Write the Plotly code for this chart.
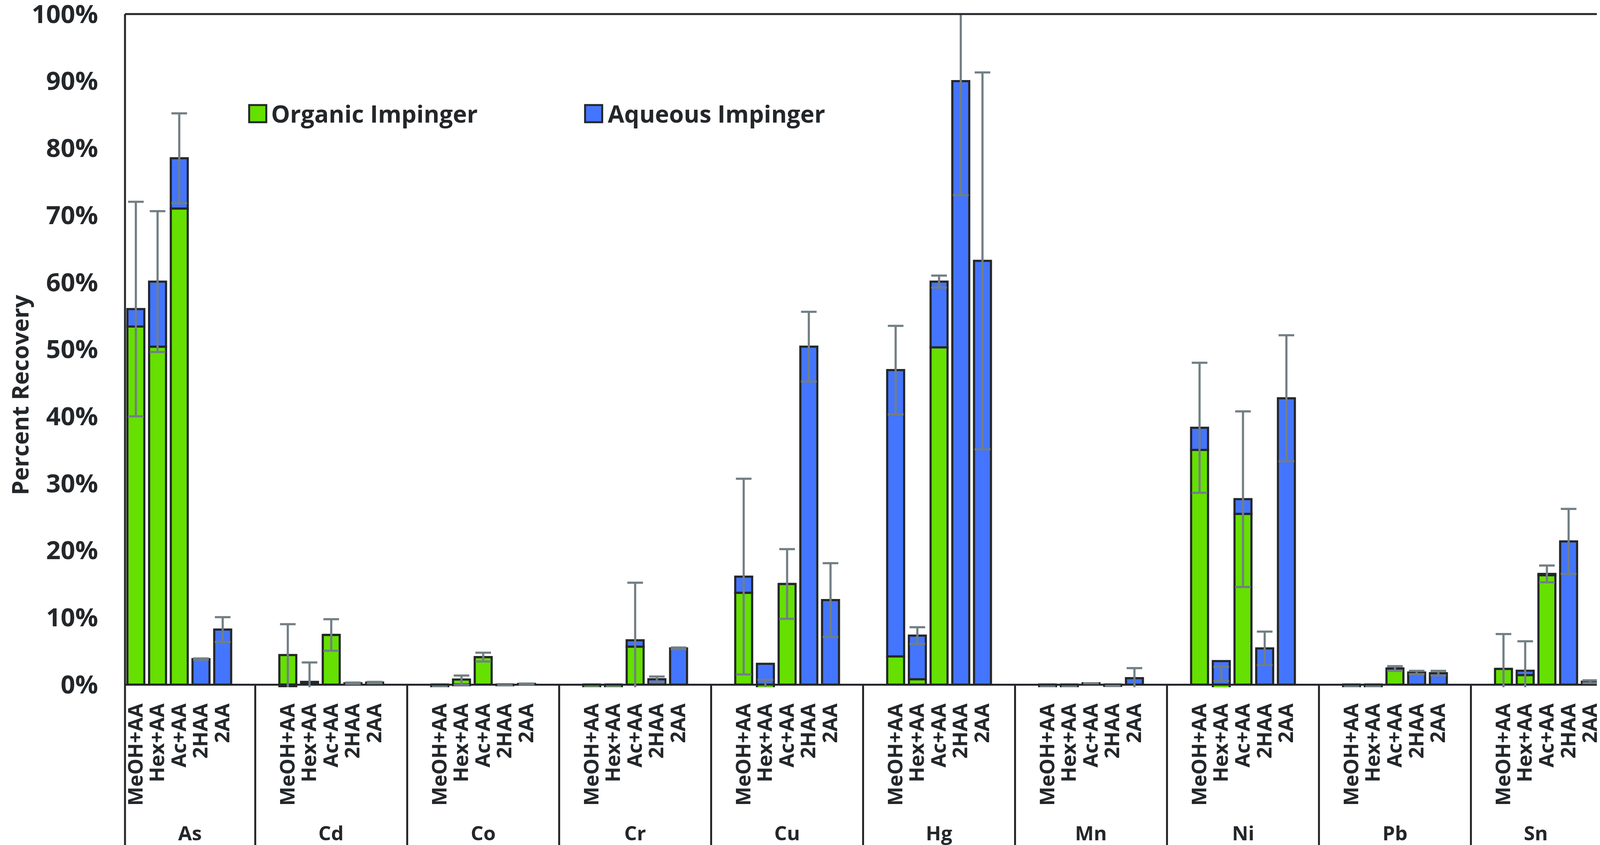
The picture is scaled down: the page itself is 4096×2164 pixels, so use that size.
import plotly.graph_objects as go

# ---------------- data (fractions of recovery) ----------------
groups = ["As", "Cd", "Co", "Cr", "Cu", "Hg", "Mn", "Ni", "Pb", "Sn"]
samples = ["MeOH+AA", "Hex+AA", "Ac+AA", "2HAA", "2AA"]
series_names = ["Organic Impinger", "Aqueous Impinger"]
y_ticks = [0.0, 0.1, 0.2, 0.3, 0.4, 0.5, 0.6, 0.7, 0.8, 0.9, 1.0]
y_tick_labels = ["0%", "10%", "20%", "30%", "40%", "50%", "60%", "70%", "80%", "90%", "100%"]

organic = [
    0.534, 0.504, 0.710, 0.000, 0.000,    # As
    0.044, 0.001, 0.074, 0.000, 0.000,    # Cd
    -0.003, 0.0075, 0.041, 0.000, 0.000,  # Co
    -0.004, -0.004, 0.0565, 0.000, 0.000, # Cr
    0.137, -0.030, 0.150, 0.000, 0.000,   # Cu
    0.042, 0.008, 0.503, 0.000, 0.000,    # Hg
    -0.003, -0.003, 0.000, 0.000, 0.000,  # Mn
    0.350, -0.019, 0.2545, 0.000, 0.000,  # Ni
    -0.003, -0.003, 0.024, 0.000, 0.000,  # Pb
    0.0234, 0.0142, 0.163, 0.000, 0.000,  # Sn
]
aqueous = [
    0.026, 0.097, 0.075, 0.038, 0.082,    # As
    -0.003, 0.003, 0.000, 0.002, 0.003,   # Cd
    0.000, -0.001, 0.000, -0.001, 0.001,  # Co
    0.000, 0.000, 0.0095, 0.008, 0.054,   # Cr
    0.024, 0.031, 0.000, 0.504, 0.126,    # Cu
    0.427, 0.065, 0.098, 0.900, 0.632,    # Hg
    0.000, 0.000, 0.002, -0.002, 0.0095,  # Mn
    0.033, 0.035, 0.022, 0.054, 0.427,    # Ni
    0.000, 0.000, 0.000, 0.018, 0.017,    # Pb
    0.000, 0.0064, 0.002, 0.2135, 0.0043, # Sn
]
error = [
    0.160, 0.105, 0.067, 0.001, 0.0185,   # As
    0.049, 0.029, 0.0235, 0.001, 0.001,   # Cd
    None, 0.007, 0.0065, None, 0.0005,    # Co
    None, None, 0.086, 0.004, 0.0012,     # Cr
    0.146, 0.006, 0.052, 0.052, 0.055,    # Cu
    0.066, 0.0125, 0.009, 0.170, 0.281,   # Hg
    None, None, None, None, 0.015,        # Mn
    0.097, 0.0105, 0.131, 0.025, 0.094,   # Ni
    None, None, 0.0035, 0.0025, 0.0035,   # Pb
    0.052, 0.044, 0.0125, 0.0485, 0.002,  # Sn
]

# ---------------- styling ----------------
S = 0.975
W, H = 4096, 2164
GREEN = "#65E000"
BLUE = "#4475FF"
EDGE = "#24272A"
ERRC = "#727F84"
FONT = "Open Sans"

# plot-area geometry in pixels (reference px * S)
L = 320 * S
R = 4196 * S
T = 29 * S
Y0PX = 1790 * S             # pixel row of 0 %
YMIN, YMAX = -0.004, 1.0
unit = (Y0PX - T) / (1.0 - 0.0)
B = Y0PX - YMIN * unit      # bottom of plot area
PW, PH = R - L, B - T


def px_x(px):
    return (px - L) / PW


def px_y(py):
    return (B - py) / PH


# ---------------- categories (with blank spacer slots) ----------------
all_cats, bar_cats, bar_labels, group_spans = [], [], [], []
for gi, g in enumerate(groups):
    start = len(all_cats)
    if gi > 0:
        all_cats.append(g + "|pre")
    for s in samples:
        c = g + "|" + s
        all_cats.append(c)
        bar_cats.append(c)
        bar_labels.append(s)
    if gi < len(groups) - 1:
        all_cats.append(g + "|post")
    group_spans.append((start, len(all_cats)))
N = len(all_cats)
XMIN, XMAX = -0.5, N - 0.5


def cat_paper(pos):
    return (pos - XMIN) / (XMAX - XMIN)


net = [o + a for o, a in zip(organic, aqueous)]

fig = go.Figure()
fig.add_trace(go.Bar(
    x=bar_cats, y=organic, name=series_names[0],
    marker=dict(color=GREEN, line=dict(color=EDGE, width=5.5)),
    showlegend=False, hoverinfo="skip"))
fig.add_trace(go.Bar(
    x=bar_cats, y=aqueous, name=series_names[1],
    marker=dict(color=BLUE, line=dict(color=EDGE, width=5.5)),
    showlegend=False, hoverinfo="skip"))
fig.add_trace(go.Scatter(
    x=bar_cats, y=net, mode="markers",
    marker=dict(color="rgba(0,0,0,0)", size=1),
    error_y=dict(type="data", array=error, symmetric=True,
                 color=ERRC, thickness=5.5, width=20),
    showlegend=False, hoverinfo="skip"))

shapes = []
line_style = dict(color=EDGE, width=5)
zero_p = px_y(Y0PX)
# frame: top, left, right
shapes.append(dict(type="line", xref="paper", yref="paper", x0=0, x1=1, y0=1, y1=1, line=line_style))
shapes.append(dict(type="line", xref="paper", yref="paper", x0=0, x1=0, y0=1, y1=-1, line=line_style))
shapes.append(dict(type="line", xref="paper", yref="paper", x0=1, x1=1, y0=1, y1=-1, line=line_style))
# group separators below the axis
annotations = []
for (a, b), g in zip(group_spans, groups):
    if b < N:
        xp = cat_paper(b - 0.5)
        shapes.append(dict(type="line", xref="paper", yref="paper", x0=xp, x1=xp,
                           y0=zero_p, y1=-1, line=line_style))
    annotations.append(dict(
        xref="paper", yref="paper", x=cat_paper((a + b - 1) / 2.0), y=px_y(2179 * S),
        text=g, showarrow=False, xanchor="center", yanchor="middle",
        font=dict(family=FONT, size=51, color=EDGE, weight="bold")))

# legend (drawn manually so the swatches can be large)
legend_items = [(series_names[0], GREEN, 646, 702), (series_names[1], BLUE, 1528, 1586)]
for name, col, bx, tx in legend_items:
    shapes.append(dict(type="rect", xref="paper", yref="paper",
                       x0=px_x(bx * S), x1=px_x((bx + 45) * S),
                       y0=px_y(268 * S), y1=px_y(313 * S),
                       fillcolor=col, line=dict(color=EDGE, width=5)))
    annotations.append(dict(
        xref="paper", yref="paper", x=px_x(tx * S), y=px_y(290 * S),
        text=name, showarrow=False, xanchor="left", yanchor="middle",
        font=dict(family=FONT, size=61, color=EDGE, weight="bold")))

# y-axis title
annotations.append(dict(
    xref="paper", yref="paper", x=px_x(0), y=px_y(1030 * S),
    text="Percent Recovery", textangle=-90, showarrow=False,
    xanchor="left", yanchor="middle",
    font=dict(family=FONT, size=59, color=EDGE, weight="bold")))

fig.update_layout(
    width=W, height=H,
    margin=dict(l=L, r=W - R, t=T, b=H - B, pad=0, autoexpand=False),
    paper_bgcolor="white", plot_bgcolor="white",
    barmode="relative", bargap=0.22,
    shapes=shapes, annotations=annotations,
    showlegend=False,
    xaxis=dict(type="category", categoryorder="array", categoryarray=all_cats,
               range=[XMIN, XMAX], tickmode="array", tickvals=bar_cats, ticktext=bar_labels,
               tickangle=-90, ticks="", showline=False, showgrid=False, zeroline=False,
               ticklabelstandoff=30, automargin=False,
               tickfont=dict(family=FONT, size=52, color=EDGE, weight="bold")),
    yaxis=dict(range=[YMIN, YMAX], tickmode="array", tickvals=y_ticks, ticktext=y_tick_labels,
               showgrid=False, showline=False, ticks="", ticklabeloverflow="allow",
               zeroline=True, zerolinecolor=EDGE, zerolinewidth=5,
               ticklabelstandoff=68, automargin=False,
               tickfont=dict(family=FONT, size=65, color=EDGE, weight="bold")),
)

fig.write_html("out.html")
